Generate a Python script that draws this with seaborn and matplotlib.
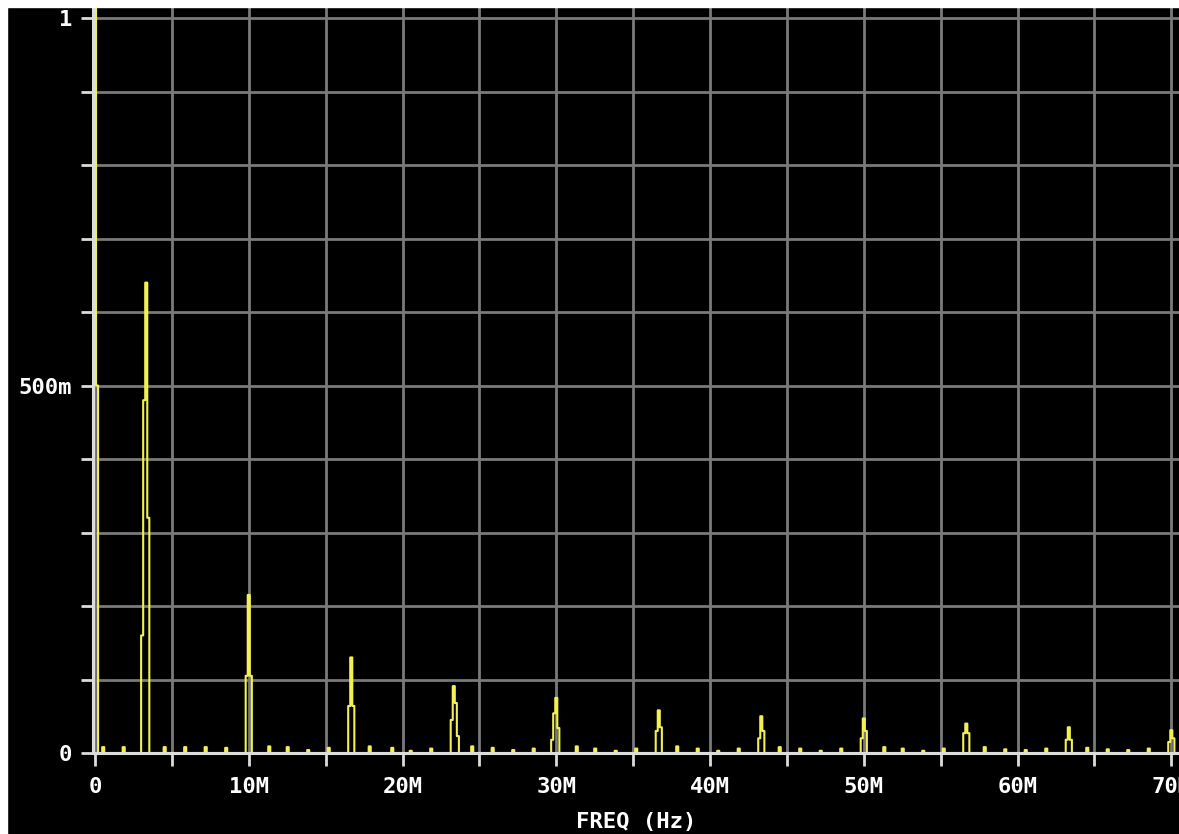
import numpy as np
import pandas as pd
import seaborn as sns
from matplotlib import pyplot as plt
from matplotlib.patches import Rectangle

# spectral peaks (MHz) and the FFT bin heights around each one, left to right
peak_freqs = [0, 3.33, 10, 16.67, 23.33, 30, 36.67, 43.33, 50, 56.67, 63.33, 70]
peak_start = [0, -2, -1, -1, -1, -2, -1, -1, -1, -1, -1, -1]
peak_bins = [
    [1.02, 0.50],
    [0.16, 0.48, 0.64, 0.32],
    [0.105, 0.215, 0.105],
    [0.064, 0.13, 0.064],
    [0.045, 0.091, 0.068, 0.023],
    [0.018, 0.054, 0.075, 0.034],
    [0.03, 0.058, 0.035],
    [0.02, 0.05, 0.03],
    [0.02, 0.047, 0.03],
    [0.027, 0.04, 0.027],
    [0.018, 0.035, 0.018],
    [0.015, 0.031, 0.02],
]

# small leakage bumps between the harmonics
ripple_freqs = [0.6, 1.9, 4.6, 5.9, 7.2, 8.6, 11.3, 12.6, 13.9, 15.2, 17.9, 19.3,
                20.6, 21.9, 24.6, 25.9, 27.2, 28.6, 31.3, 32.6, 33.9, 35.2, 37.9,
                39.2, 40.6, 41.9, 44.6, 45.9, 47.2, 48.5, 51.3, 52.6, 53.9, 55.2,
                57.9, 59.2, 60.6, 61.9, 64.6, 65.9, 67.2, 68.5]
ripple_heights = [0.008, 0.008, 0.008, 0.008, 0.008, 0.007, 0.009, 0.008, 0.004, 0.007,
                  0.009, 0.007, 0.003, 0.006, 0.009, 0.007, 0.004, 0.006, 0.009, 0.006,
                  0.003, 0.006, 0.009, 0.006, 0.003, 0.006, 0.008, 0.006, 0.003, 0.006,
                  0.008, 0.006, 0.003, 0.006, 0.008, 0.005, 0.004, 0.006, 0.007, 0.005,
                  0.004, 0.006]

bin_w = 1 / 7.5
freq = np.arange(0, 71, bin_w)
mag = np.zeros_like(freq)
for f, start, vals in zip(peak_freqs, peak_start, peak_bins):
    i0 = int(round(f / bin_w)) + start
    for k, v in enumerate(vals):
        mag[i0 + k] = v
for f, h in zip(ripple_freqs, ripple_heights):
    mag[int(round(f / bin_w))] = h

df = pd.DataFrame({'freq': freq, 'mag': mag})

sns.set_style('dark', {'axes.facecolor': 'black', 'figure.facecolor': 'black',
                       'xtick.bottom': True, 'ytick.left': True})
plt.rcParams['font.family'] = ['DejaVu Sans Mono', 'DejaVu Sans']

fig = plt.figure(figsize=(11.79, 8.34), dpi=100)
ax = fig.add_axes([93 / 1179, 81 / 834, 1 - 93 / 1179, 746 / 834])

sns.lineplot(data=df, x='freq', y='mag', ax=ax, color='#f4f050', linewidth=1.5,
             drawstyle='steps-mid', estimator=None, sort=False)

ax.set_xlim(-0.13, 70.5)
ax.set_ylim(0, 1.015)

xt = np.arange(0, 75, 5)
ax.set_xticks(xt)
ax.set_xticklabels(['0' if v == 0 else (f'{v}M' if v % 10 == 0 else '') for v in xt])
yt = np.round(np.arange(0, 1.05, 0.1), 1)
ax.set_yticks(yt)
ax.set_yticklabels([{0.0: '0', 0.5: '500m', 1.0: '1'}.get(v, '') for v in yt])

ax.grid(True, color='#7a7a7a', linewidth=2)
ax.set_axisbelow(True)
for s in ['top', 'right']:
    ax.spines[s].set_visible(False)
for s in ['left', 'bottom']:
    ax.spines[s].set_visible(True)
    ax.spines[s].set_color('#dcdcdc')
    ax.spines[s].set_linewidth(2.2)
ax.tick_params(axis='both', bottom=True, left=True, colors='#dcdcdc', length=9, width=2,
               labelcolor='white', labelsize=16)
ax.tick_params(axis='x', pad=8)
ax.tick_params(axis='y', pad=6)
for t in ax.get_xticklabels() + ax.get_yticklabels():
    t.set_fontweight('bold')

ax.set_xlabel('FREQ (Hz)', color='white', fontsize=16, fontweight='bold', labelpad=11)
ax.set_ylabel('')

# thin white frame at top and left of the screenshot
fig.patches.append(Rectangle((0, 1 - 7 / 834), 1, 7 / 834, transform=fig.transFigure,
                             color='white', zorder=10))
fig.patches.append(Rectangle((0, 0), 7 / 1179, 1, transform=fig.transFigure,
                             color='white', zorder=10))

fig.savefig('out.png', dpi=100, facecolor='black')
